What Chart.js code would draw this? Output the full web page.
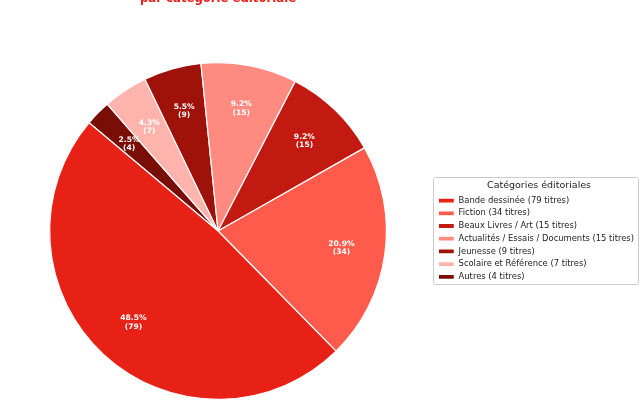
<!DOCTYPE html>
<html>
<head>
<meta charset="utf-8">
<script src="https://cdn.jsdelivr.net/npm/chart.js@4/dist/chart.umd.min.js"></script>
<style>
  html, body { margin: 0; padding: 0; background: #fff; }
  canvas { display: block; }
</style>
</head>
<body>
<canvas id="myChart" width="644" height="414"></canvas>
<script>
const categories = [
  'Bande dessinée',
  'Fiction',
  'Beaux Livres / Art',
  'Actualités / Essais / Documents',
  'Jeunesse',
  'Scolaire et Référence',
  'Autres'
]
const titleCounts = [79, 34, 15, 15, 9, 7, 4]
const sliceColors = ['#e82117', '#ff5b4d', '#c21a10', '#ff8b80', '#9e120a', '#ffb3ad', '#7a0e07']

const total = titleCounts.reduce((a, b) => a + b, 0)

// matplotlib goes counter-clockwise from 140deg, chart.js goes clockwise,
// so feed the slices in reverse and flip the legend back
const labels = categories.map((c, i) => c + ' (' + titleCounts[i] + ' titres)').reverse()
const values = titleCounts.slice().reverse()
const colors = sliceColors.slice().reverse()

const sliceText = {
  id: 'sliceText',
  afterDatasetsDraw(chart) {
    const ctx = chart.ctx
    const meta = chart.getDatasetMeta(0)
    ctx.save()
    ctx.fillStyle = '#fff'
    ctx.font = 'bold 7.6px "DejaVu Sans"'
    ctx.textAlign = 'center'
    ctx.textBaseline = 'middle'
    meta.data.forEach((arc, i) => {
      const p = arc.getProps(['x', 'y', 'startAngle', 'endAngle', 'outerRadius'])
      const mid = (p.startAngle + p.endAngle) / 2
      const r = p.outerRadius * 0.74
      const x = p.x + Math.cos(mid) * r
      const y = p.y + Math.sin(mid) * r
      const v = values[i]
      ctx.fillText((v / total * 100).toFixed(1) + '%', x, y - 4.2)
      ctx.fillText('(' + v + ')', x, y + 4.2)
    })
    ctx.restore()
  }
}

// frame only around the legend entries + title, not the whole side box
const legendFrame = {
  id: 'legendFrame',
  beforeDraw(chart) {
    const lg = chart.legend
    const boxes = lg.legendHitBoxes
    if (!boxes || !boxes.length) return
    const ctx = chart.ctx
    const left = Math.min(...boxes.map((b) => b.left)) - 5
    const right = Math.max(...boxes.map((b) => b.left + b.width)) + 4
    const last = boxes[boxes.length - 1]
    const top = boxes[0].top - 19
    const bottom = last.top + last.height + 3
    ctx.save()
    ctx.fillStyle = 'rgba(255,255,255,0.8)'
    ctx.strokeStyle = '#cccccc'
    ctx.lineWidth = 1
    ctx.beginPath()
    ctx.roundRect(Math.round(left) + 0.5, Math.round(top) + 0.5, Math.round(right - left), Math.round(bottom - top), 2)
    ctx.fill()
    ctx.stroke()
    ctx.restore()
  }
}

const topTitle = {
  id: 'topTitle',
  afterDraw(chart) {
    const ctx = chart.ctx
    ctx.save()
    ctx.fillStyle = '#e8201a'
    ctx.font = 'bold 11.7px "DejaVu Sans"'
    ctx.textAlign = 'center'
    ctx.textBaseline = 'alphabetic'
    ctx.fillText('par catégorie éditoriale', chart.chartArea.left + chart.chartArea.width / 2, 2)
    ctx.restore()
  }
}

const data = {
  labels,
  datasets: [
    {
      data: values,
      backgroundColor: colors,
      borderColor: '#ffffff',
      borderWidth: 1.2
    }
  ]
}

const options = {
  responsive: false,
  animation: false,
  devicePixelRatio: 1,
  rotation: -50,
  layout: {
    padding: { top: 62, bottom: 14, left: 2, right: 0 }
  },
  plugins: {
    tooltip: { enabled: false },
    legend: {
      position: 'right',
      reverse: true,
      onClick: null,
      title: {
        display: true,
        text: 'Catégories éditoriales',
        color: '#222',
        font: { family: 'DejaVu Sans', size: 9.5 },
        padding: { top: 4, bottom: 0 }
      },
      labels: {
        color: '#222',
        font: { family: 'DejaVu Sans', size: 8.4 },
        boxWidth: 16,
        boxHeight: 5,
        padding: 4.3
      }
    }
  }
}

new Chart(document.getElementById('myChart'), {
  type: 'pie',
  data,
  options,
  plugins: [sliceText, legendFrame, topTitle]
})
</script>
</body>
</html>
